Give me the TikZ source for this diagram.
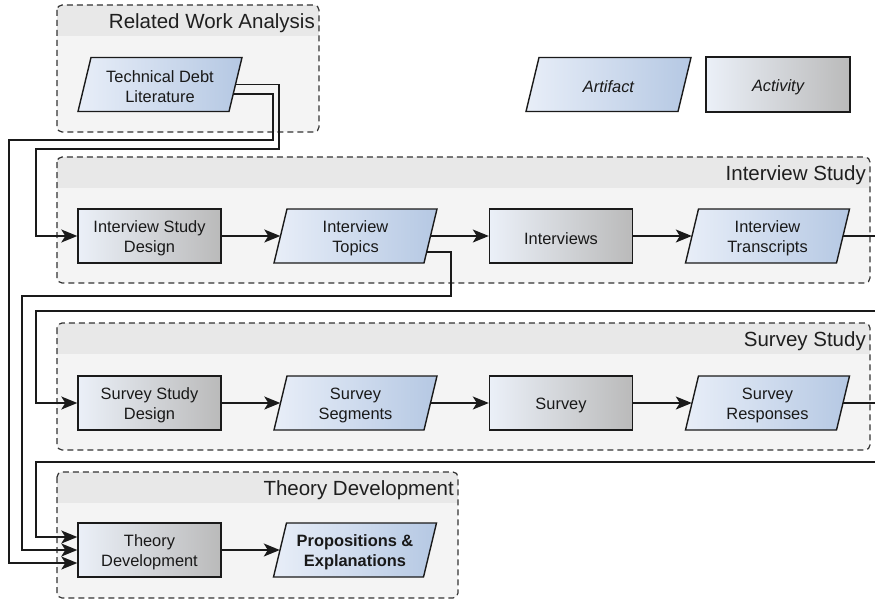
\documentclass[tikz,border=0pt]{standalone}
\usepackage{fontspec}
\setmainfont{Liberation Sans}
\usetikzlibrary{arrows.meta,calc}
\definecolor{gbodyc}{HTML}{F4F4F4}
\definecolor{gbandc}{HTML}{E8E8E8}
\definecolor{linec}{HTML}{1A1A1A}
\definecolor{actL}{HTML}{EBF0F8}
\definecolor{actR}{HTML}{BABABA}
\definecolor{artL}{HTML}{E8EEF8}
\definecolor{artR}{HTML}{B5C8E3}
\newcommand\nodefont{\fontsize{16.4}{20}\selectfont}
\newcommand\titlefont{\fontsize{20.5}{24}\selectfont}
\tikzset{
 conn/.style={draw=linec, line width=1.4pt},
 arr/.style={conn, -{Stealth[length=16pt,width=13pt,inset=4pt]}},
 actbox/.style={draw=linec, line width=1.4pt, left color=actL, right color=actR, minimum width=143pt, minimum height=54pt, inner sep=0pt},
 ntext/.style={font=\nodefont, align=center, inner sep=0pt, text=black!90},
 arttext/.style={minimum height=54pt, inner sep=0pt},
 artshape/.style={draw=linec, line width=1.4pt, left color=artL, right color=artR, line join=miter},
 gline/.style={draw=black!80, line width=1.2pt, dash pattern=on 6pt off 4pt},
 gtitle/.style={font=\titlefont, inner sep=0pt, text=black!88},
}
\newcommand\artnode[5]{%
 \path[artshape] (#2-#4/2-6.5,#3+27) -- (#2-#4/2+6.5,#3-27) -- (#2+#4/2+6.5,#3-27) -- (#2+#4/2-6.5,#3+27) -- cycle;
 \node[arttext, minimum width=#4pt] (#1) at (#2,#3) {};
 \node[ntext] (#1-t) at (#2,#3+2.5) {#5};}
\newcommand\actnode[5][]{%
 \node[actbox,#1] (#2) at (#3,#4) {};
 \node[ntext] (#2-t) at (#3,#4+2.5) {#5};}
\newcommand\mkgroup[6]{%
 \begin{scope}
 \clip[rounded corners=5pt] (#2,#3) rectangle (#4,#5);
 \fill[gbodyc] (#2,#3) rectangle (#4,#5);
 \fill[gbandc] (#2,#3) rectangle (#4,#3+31);
 \end{scope}
 \draw[gline, rounded corners=5pt] (#2,#3) rectangle (#4,#5);
 \node[gtitle, anchor=base east] (#1) at (#4-4,#3+23.5) {#6};}
\begin{document}
\begin{tikzpicture}[x=1pt,y=-1pt]
\useasboundingbox (0,0) rectangle (875,602);
\clip (0,0) rectangle (875,602);
\fill[white] (0,0) rectangle (875,602);
% groups
\mkgroup{gRWA}{57}{5}{319}{132}{Related Work Analysis}
\mkgroup{gIS}{57}{157}{870}{283}{Interview Study}
\mkgroup{gSS}{57}{323}{870}{450}{Survey Study}
\mkgroup{gTD}{57}{472}{458}{598}{Theory Development}
% nodes
\artnode{TDL}{160}{84.5}{151}{Technical Debt\\Literature}
\actnode{ISD}{149.5}{236}{Interview Study\\Design}
\artnode{TOP}{355.5}{236}{150}{Interview\\Topics}
\actnode{INT}{561}{236}{Interviews}
\artnode{TRN}{767.5}{236}{151}{Interview\\Transcripts}
\actnode{SSD}{149.5}{403}{Survey Study\\Design}
\artnode{SEG}{355.5}{403}{150}{Survey\\Segments}
\actnode{SUR}{561}{403}{Survey}
\artnode{RSP}{767.5}{403}{151}{Survey\\Responses}
\actnode{TD}{149.5}{550}{Theory\\Development}
\artnode{PRO}{355}{550}{150}{\bfseries Propositions \&\\\bfseries Explanations}
% legend
\artnode{LART}{608.5}{84.5}{152}{\itshape Artifact}
\actnode[minimum width=144pt, minimum height=55pt]{LACT}{778}{84.5}{\itshape Activity}
% connectors
\draw[arr] (TDL.east) -- (279,84.5) -- (279,149) -- (36,149) |- (ISD.west);
\draw[arr] ($(TDL.east)+(-2.2,9.5)$) -- (273,94) -- (273,140) -- (9,140) |- ($(TD.west)+(0,13)$);
\draw[arr] ($(TOP.east)+(-3.9,16)$) -- (451,252) -- (451,296) -- (22,296) |- (TD.west);
\draw[arr] (TRN.east) -- (890,236) -- (890,311) -- (36,311) |- (SSD.west);
\draw[arr] (RSP.east) -- (890,403) -- (890,462) -- (36,462) |- ($(TD.west)+(0,-13)$);
\draw[arr] (ISD.east) -- (TOP.west);
\draw[arr] (TOP.east) -- (INT.west);
\draw[arr] (INT.east) -- (TRN.west);
\draw[arr] (SSD.east) -- (SEG.west);
\draw[arr] (SEG.east) -- (SUR.west);
\draw[arr] (SUR.east) -- (RSP.west);
\draw[arr] (TD.east) -- (PRO.west);
\end{tikzpicture}
\end{document}
